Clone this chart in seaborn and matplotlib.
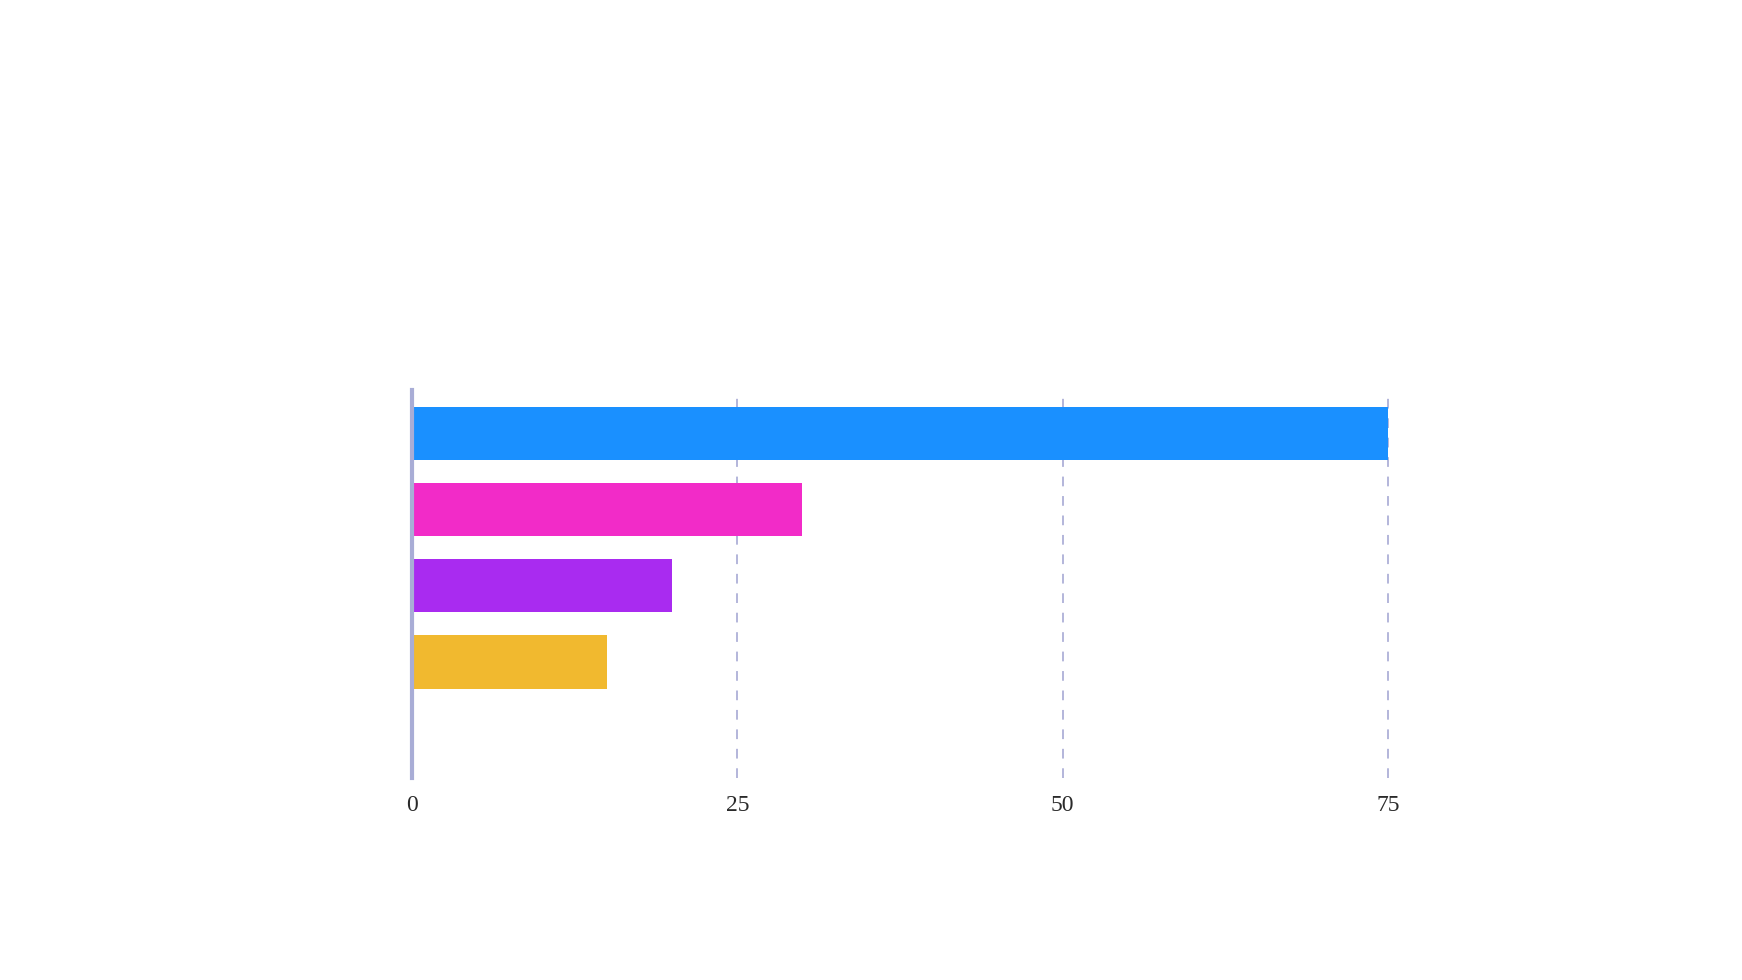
import matplotlib
matplotlib.use('Agg')
import matplotlib.pyplot as plt
import seaborn as sns
import pandas as pd

# valores
categorias = ['A', 'B', 'C', 'D']
valores = [75, 30, 20, 15]
cores = ['#1A90FF', '#F22BC8', '#A92BF0', '#F1B92F']
ticks_x = [0, 25, 50, 75]

df = pd.DataFrame({'categoria': categorias, 'valor': valores})

sns.set_style('white')
plt.rcParams['font.family'] = ['Liberation Serif', 'DejaVu Serif']

fig = plt.figure(figsize=(17.42, 9.8), dpi=100)
ax = fig.add_axes([0.2365, 0.206, 0.5603, 0.396])

sns.barplot(data=df, x='valor', y='categoria', hue='categoria', palette=cores,
            orient='h', width=0.706, legend=False, ax=ax, saturation=1,
            linewidth=0)

ax.set_xlim(0, 75)
ax.set_ylim(4.53, -0.57)
ax.set_xticks(ticks_x)
ax.set_xticklabels([str(t) for t in ticks_x], fontsize=17, color='#2a2a2a')
ax.set_yticks([])
ax.set_xlabel('')
ax.set_ylabel('')
ax.tick_params(axis='x', length=0, pad=12)

# linhas de grade tracejadas
for t in ticks_x[1:]:
    ax.axvline(t, color='#B3B6DA', linestyle=(0, (5, 5)), linewidth=1.4, zorder=0, clip_on=False)

for lado in ['top', 'right', 'bottom']:
    ax.spines[lado].set_visible(False)
ax.spines['left'].set_color('#A9ADD6')
ax.spines['left'].set_linewidth(3)

fig.savefig('out.png', dpi=100, facecolor='white')
